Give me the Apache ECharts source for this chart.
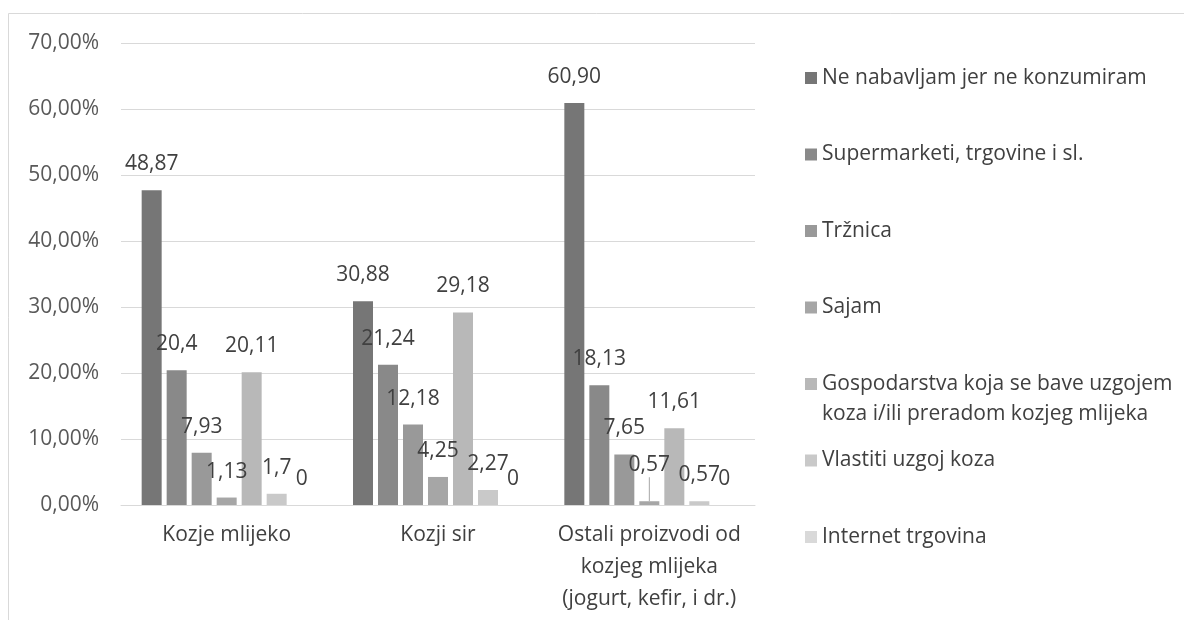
<!DOCTYPE html>
<html>
<head>
<meta charset="utf-8">
<script src="https://cdn.jsdelivr.net/npm/echarts@6/dist/echarts.min.js"></script>
<style>
  html, body { margin: 0; padding: 0; background: #fff; }
  #main { width: 1184px; height: 620px; }
</style>
</head>
<body>
<div id="main"></div>
<script>
// kategorije (x os)
var categories = ['Kozje mlijeko', 'Kozji sir', 'Ostali proizvodi od\nkozjeg mlijeka\n(jogurt, kefir, i dr.)'];

// nazivi serija
var seriesNames = [
  'Ne nabavljam jer ne konzumiram',
  'Supermarketi, trgovine i sl.',
  'Tržnica',
  'Sajam',
  'Gospodarstva koja se bave uzgojem\nkoza i/ili preradom kozjeg mlijeka',
  'Vlastiti uzgoj koza',
  'Internet trgovina'
];

// visine stupaca (%), očitano sa slike
var neNabavljam = [47.7, 30.88, 60.9];
var supermarketi = [20.4, 21.24, 18.13];
var trznica = [7.93, 12.18, 7.65];
var sajam = [1.13, 4.25, 0.57];
var gospodarstva = [20.11, 29.18, 11.61];
var vlastitiUzgoj = [1.7, 2.27, 0.57];
var internet = [0, 0, 0];

// natpisi iznad stupaca
var neNabavljamLbl = ['48,87', '30,88', '60,90'];
var supermarketiLbl = ['20,4', '21,24', '18,13'];
var trznicaLbl = ['7,93', '12,18', '7,65'];
var sajamLbl = ['1,13', '4,25', '0,57'];
var gospodarstvaLbl = ['20,11', '29,18', '11,61'];
var vlastitiUzgojLbl = ['1,7', '2,27', '0,57'];
var internetLbl = ['0', '0', '0'];

var yTicks = [0, 10, 20, 30, 40, 50, 60, 70];

var values = [neNabavljam, supermarketi, trznica, sajam, gospodarstva, vlastitiUzgoj, internet];
var labels = [neNabavljamLbl, supermarketiLbl, trznicaLbl, sajamLbl, gospodarstvaLbl, vlastitiUzgojLbl, internetLbl];
var colors = ['#767676', '#898989', '#999999', '#a6a6a6', '#b8b8b8', '#c9c9c9', '#d9d9d9'];

var FONT = 'Open Sans';
var FS = 21;

var series = seriesNames.map(function (name, i) {
  var s = {
    name: name,
    type: 'bar',
    barWidth: 20,
    barGap: '25%',
    color: colors[i],
    data: values[i],
    label: {
      show: true,
      position: 'top',
      distance: 14,
      color: '#404040',
      fontFamily: FONT,
      fontSize: FS,
      lineHeight: 24,
      formatter: function (p) { return labels[i][p.dataIndex]; }
    }
  };
  // u Excelu je natpis "0,57" (Sajam, treća kategorija) pomaknut gore s vodilicom
  if (i === 3) {
    s.data = values[i].map(function (v, k) {
      return k === 2 ? { value: v, labelLine: { show: true } } : v;
    });
    s.labelLayout = function (p) { return p.dataIndex === 2 ? { dy: -10 } : {}; };
    s.labelLine = { show: false, length2: 0, lineStyle: { color: '#a6a6a6', width: 1 } };
  }
  return s;
});

// legenda - jedna stavka po seriji, razmak kao u Excelu
var legends = seriesNames.map(function (name, i) {
  var center = 78 + i * 76.5;
  var twoLines = name.indexOf('\n') >= 0;
  return {
    data: [name],
    orient: 'vertical',
    left: 805,
    top: twoLines ? center - 45 : center - 15,
    padding: 0,
    icon: 'rect',
    itemWidth: 12,
    itemHeight: 12,
    selectedMode: false,
    // prazan prvi red da ikona stoji uz prvi red teksta
    formatter: function (n) { return twoLines ? ' \n' + n : n; },
    textStyle: { color: '#404040', fontFamily: FONT, fontSize: FS, lineHeight: 30 }
  };
});

var myChart = echarts.init(document.getElementById('main'));
myChart.setOption({
  animation: false,
  backgroundColor: '#fff',
  graphic: [{
    type: 'rect',
    shape: { x: 8.5, y: 13.5, width: 1300, height: 700 },
    style: { fill: 'none', stroke: '#d9d9d9', lineWidth: 1 },
    silent: true
  }],
  legend: legends,
  grid: { left: 121, right: 1184 - 755, top: 43, bottom: 115 },
  xAxis: {
    type: 'category',
    data: categories,
    axisLine: { lineStyle: { color: '#d9d9d9' } },
    axisTick: { show: false },
    axisLabel: { interval: 0, color: '#404040', fontFamily: FONT, fontSize: FS, lineHeight: 32, margin: 14 }
  },
  yAxis: {
    type: 'value',
    min: yTicks[0],
    max: yTicks[yTicks.length - 1],
    interval: 10,
    axisLine: { show: false },
    axisTick: { show: false },
    splitLine: { lineStyle: { color: '#d9d9d9' } },
    axisLabel: {
      color: '#595959', fontFamily: FONT, fontSize: FS, margin: 22,
      formatter: function (v) { return v.toFixed(2).replace('.', ',') + '%'; }
    }
  },
  series: series
});
</script>
</body>
</html>
